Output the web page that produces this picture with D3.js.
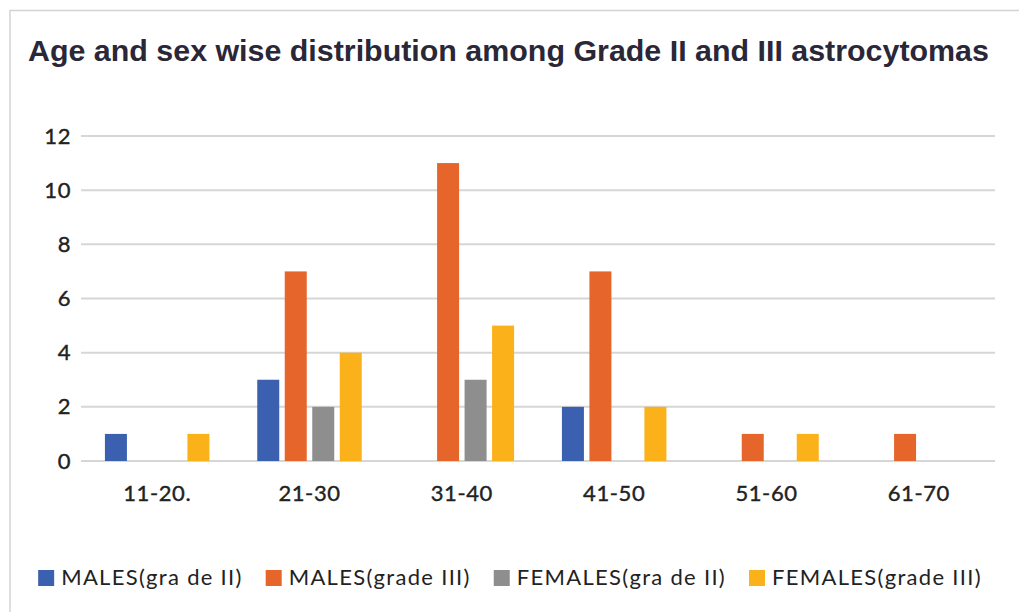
<!DOCTYPE html>
<html>
<head>
<meta charset="utf-8">
<script src="https://cdnjs.cloudflare.com/ajax/libs/d3/7.8.5/d3.min.js"></script>
<style>
  html, body { margin: 0; padding: 0; background: #fff; }
  svg { display: block; }
</style>
</head>
<body>
<div id="chart"></div>
<script>
const ageGroups = ["11-20.", "21-30", "31-40", "41-50", "51-60", "61-70"];
const seriesNames = ["MALES(gra de II)", "MALES(grade III)", "FEMALES(gra de II)", "FEMALES(grade III)"];
const malesGrade2 = [1, 3, 0, 2, 0, 0];
const malesGrade3 = [0, 7, 11, 7, 1, 1];
const femalesGrade2 = [0, 2, 3, 0, 0, 0];
const femalesGrade3 = [1, 4, 5, 2, 1, 0];
const yTicks = [0, 2, 4, 6, 8, 10, 12];

const seriesValues = [malesGrade2, malesGrade3, femalesGrade2, femalesGrade3];
const colors = ["#3b60b0", "#e6652a", "#8e8e8e", "#fbb11a"];

const width = 1019, height = 612;
const plot = { left: 81, right: 995, top: 136, bottom: 461 };

const svg = d3.select("#chart").append("svg")
    .attr("width", width)
    .attr("height", height);

// frame of the original picture
svg.append("path")
    .attr("d", `M10,${height} V10.5 H${width}`)
    .attr("fill", "none")
    .attr("stroke", "#d3d3d3")
    .attr("stroke-width", 1.5);

svg.append("text")
    .attr("x", 28)
    .attr("y", 61)
    .attr("font-family", "Liberation Sans, Arial, sans-serif")
    .attr("font-weight", "bold")
    .attr("font-size", 30.4)
    .attr("fill", "#2a2739")
    .text("Age and sex wise distribution among Grade II and III astrocytomas");

const x0 = d3.scaleBand()
    .domain(ageGroups)
    .range([plot.left, plot.right])
    .paddingInner(0.314)
    .paddingOuter(0.157);

const x1 = d3.scaleBand()
    .domain(d3.range(seriesNames.length))
    .range([0, x0.bandwidth()])
    .paddingInner(0.2);

const y = d3.scaleLinear()
    .domain([0, 12])
    .range([plot.bottom, plot.top]);

// gridlines
svg.append("g")
    .selectAll("line")
    .data(yTicks)
    .join("line")
    .attr("x1", plot.left)
    .attr("x2", plot.right)
    .attr("y1", d => y(d))
    .attr("y2", d => y(d))
    .attr("stroke", "#d6d6d6")
    .attr("stroke-width", 2);

function labelStyle(sel) {
    sel.attr("font-family", "Lato, sans-serif")
        .attr("font-size", 22)
        .attr("letter-spacing", 0.6)
        .attr("fill", "#222")
        .attr("stroke", "#222")
        .attr("stroke-width", 0.4);
}

// y axis labels
const yAxis = svg.append("g")
    .attr("transform", `translate(${plot.left - 10},0)`)
    .call(d3.axisLeft(y).tickValues(yTicks).tickSize(0).tickPadding(0));
yAxis.select(".domain").remove();
yAxis.selectAll("text").call(labelStyle);

// x axis labels
const xAxis = svg.append("g")
    .attr("transform", `translate(0,${plot.bottom})`)
    .call(d3.axisBottom(x0).tickSize(0).tickPadding(24));
xAxis.select(".domain").remove();
xAxis.selectAll("text").call(labelStyle);

// bars
const groups = svg.append("g")
    .selectAll("g")
    .data(ageGroups)
    .join("g")
    .attr("transform", d => `translate(${x0(d)},0)`);

groups.selectAll("rect")
    .data((d, i) => seriesValues.map((s, k) => ({ k: k, v: s[i] })))
    .join("rect")
    .filter(d => d.v > 0)
    .attr("x", d => x1(d.k))
    .attr("width", x1.bandwidth())
    .attr("y", d => y(d.v))
    .attr("height", d => y(0) - y(d.v))
    .attr("fill", d => colors[d.k]);

// legend
const legend = svg.append("g");
const items = legend.selectAll("g")
    .data(seriesNames)
    .join("g");

items.append("rect")
    .attr("width", 16)
    .attr("height", 16)
    .attr("y", -15)
    .attr("fill", (d, i) => colors[i]);

items.append("text")
    .attr("x", 23)
    .attr("font-family", "Lato, sans-serif")
    .attr("font-size", 22)
    .attr("letter-spacing", 1.3)
    .attr("fill", "#222")
    .text(d => d);

let pos = 0;
items.each(function () {
    const w = this.getBBox().width;
    d3.select(this).attr("transform", `translate(${pos},0)`);
    pos += w + 23;
});
const legendWidth = pos - 23;
legend.attr("transform", `translate(${(43 + 977) / 2 - legendWidth / 2},585)`);
</script>
</body>
</html>
